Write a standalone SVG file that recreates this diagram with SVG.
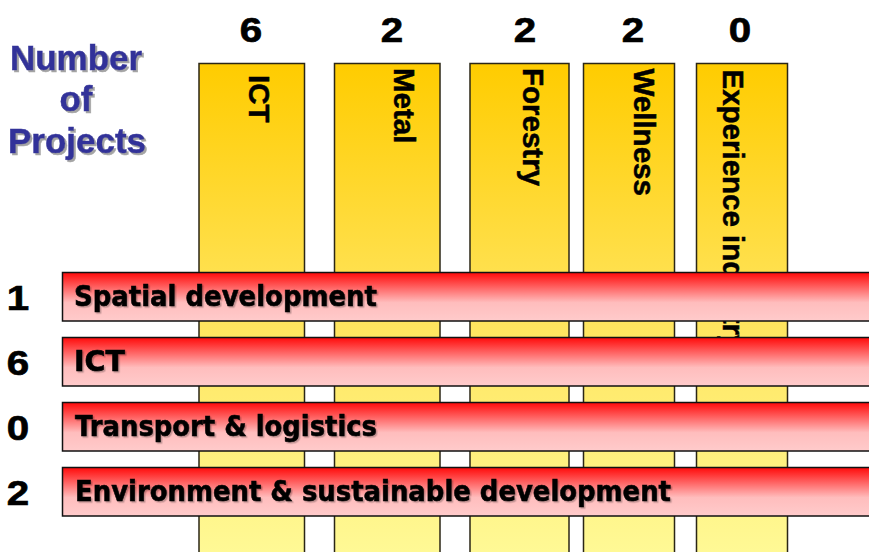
<svg xmlns="http://www.w3.org/2000/svg" width="869" height="552" viewBox="0 0 869 552">
  <defs>
    <linearGradient id="gold" x1="0" y1="0" x2="0" y2="1">
      <stop offset="0" stop-color="#FFCC00"/>
      <stop offset="0.5" stop-color="#FFE45C"/>
      <stop offset="1" stop-color="#FFFA98"/>
    </linearGradient>
    <linearGradient id="redfade" x1="0" y1="0" x2="0" y2="1">
      <stop offset="0" stop-color="#FF0A0A"/>
      <stop offset="0.62" stop-color="#FFBDBD"/>
      <stop offset="1" stop-color="#FFCBCB"/>
    </linearGradient>
    <filter id="shadow" x="-10%" y="-20%" width="130%" height="150%">
      <feDropShadow dx="2" dy="2" stdDeviation="0.6" flood-color="#9a9a9a" flood-opacity="0.9"/>
    </filter>
    <filter id="softshadow" x="-5%" y="-20%" width="110%" height="150%">
      <feDropShadow dx="1.5" dy="1.5" stdDeviation="0.5" flood-color="#000" flood-opacity="0.25"/>
    </filter>
  </defs>
  <style>
    .col { fill: url(#gold); stroke: #2b2616; stroke-width: 1.5; }
    .bar { fill: url(#redfade); stroke: #111; stroke-width: 1.5; }
    .num { font-family: "Liberation Sans", Arial, sans-serif; font-weight: bold; font-size: 36px; fill: #000; stroke: #000; stroke-width: 0.7; text-anchor: middle; }
    .vlab { font-family: "Liberation Sans", Arial, sans-serif; font-weight: bold; font-size: 29.5px; fill: #000; stroke: #000; stroke-width: 0.5; }
    .blab { font-family: "DejaVu Sans", Verdana, sans-serif; font-weight: bold; font-size: 28.5px; fill: #000; stroke: #000; stroke-width: 0.6; filter: url(#softshadow); }
    .title { font-family: "Liberation Sans", Arial, sans-serif; font-weight: bold; font-size: 35px; fill: #333399; stroke: #333399; stroke-width: 0.5; text-anchor: middle; filter: url(#shadow); }
  </style>

  <rect width="869" height="552" fill="#fff"/>

  <!-- axis title -->
  <g id="title">
    <text class="title" x="76" y="70">Number</text>
    <text class="title" x="76" y="111">of</text>
    <text class="title" x="77" y="153">Projects</text>
  </g>

  <!-- sector columns with project counts -->
  <g id="col-ict">
    <text class="num" transform="translate(251,42) scale(1.12,1)">6</text>
    <rect class="col" x="199" y="63.5" width="105.5" height="500"/>
    <text class="vlab" transform="translate(249,75) rotate(90)">ICT</text>
  </g>
  <g id="col-metal">
    <text class="num" transform="translate(392,42) scale(1.12,1)">2</text>
    <rect class="col" x="334.5" y="63.5" width="105.5" height="500"/>
    <text class="vlab" transform="translate(394,68) rotate(90)">Metal</text>
  </g>
  <g id="col-forestry">
    <text class="num" transform="translate(525,42) scale(1.12,1)">2</text>
    <rect class="col" x="470" y="63.5" width="99" height="500"/>
    <text class="vlab" transform="translate(523,68) rotate(90)">Forestry</text>
  </g>
  <g id="col-wellness">
    <text class="num" transform="translate(633,42) scale(1.12,1)">2</text>
    <rect class="col" x="583.5" y="63.5" width="91" height="500"/>
    <text class="vlab" transform="translate(634,68.5) rotate(90)">Wellness</text>
  </g>
  <g id="col-experience">
    <text class="num" transform="translate(740,42) scale(1.12,1)">0</text>
    <rect class="col" x="696.5" y="63.5" width="91" height="500"/>
    <text class="vlab" transform="translate(723,69.5) rotate(90)">Experience industry</text>
  </g>

  <!-- theme bars crossing the columns -->
  <g id="row-spatial">
    <text class="num" transform="translate(18,309.5) scale(1.12,1)">1</text>
    <rect class="bar" x="62.5" y="272.5" width="820" height="48.5"/>
    <text class="blab" x="74" y="306" textLength="303" lengthAdjust="spacingAndGlyphs">Spatial development</text>
  </g>
  <g id="row-ict">
    <text class="num" transform="translate(18,374.5) scale(1.12,1)">6</text>
    <rect class="bar" x="62.5" y="337.5" width="820" height="48.5"/>
    <text class="blab" x="74" y="371" textLength="51" lengthAdjust="spacingAndGlyphs">ICT</text>
  </g>
  <g id="row-transport">
    <text class="num" transform="translate(18,439.5) scale(1.12,1)">0</text>
    <rect class="bar" x="62.5" y="402.5" width="820" height="48.5"/>
    <text class="blab" x="75" y="436" textLength="302" lengthAdjust="spacingAndGlyphs">Transport &amp; logistics</text>
  </g>
  <g id="row-environment">
    <text class="num" transform="translate(18,504.5) scale(1.12,1)">2</text>
    <rect class="bar" x="62.5" y="467.5" width="820" height="48.5"/>
    <text class="blab" x="75" y="501" textLength="596" lengthAdjust="spacingAndGlyphs">Environment &amp; sustainable development</text>
  </g>

  <!-- no connectors in this chart -->
  <g id="connectors"/>
</svg>
